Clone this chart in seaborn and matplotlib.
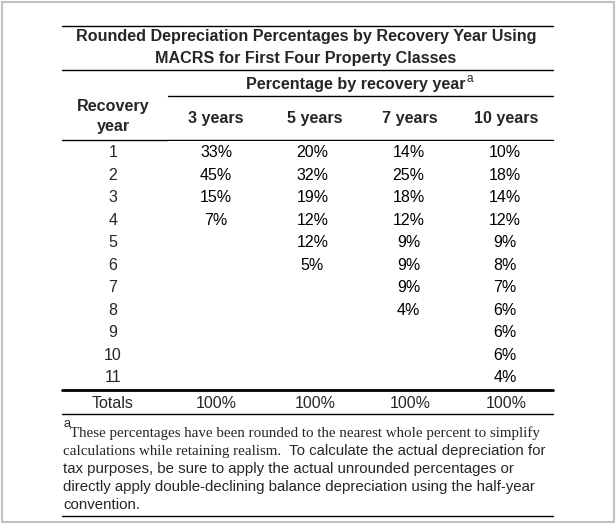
import numpy as np
import pandas as pd
import matplotlib
matplotlib.use('Agg')
import matplotlib.pyplot as plt
import seaborn as sns
from matplotlib.colors import ListedColormap

# data
recovery_years = list(range(1, 12))
classes = ['3 years', '5 years', '7 years', '10 years']
pct_3 = [33, 45, 15, 7]
pct_5 = [20, 32, 19, 12, 12, 5]
pct_7 = [14, 25, 18, 12, 9, 9, 9, 4]
pct_10 = [10, 18, 14, 12, 9, 8, 7, 6, 6, 6, 4]
totals = ['100%', '100%', '100%', '100%']

title_lines = ['Rounded Depreciation Percentages by Recovery Year Using',
               'MACRS for First Four Property Classes']
group_header = 'Percentage by recovery year'
row_header = ['Recovery', 'year']
note_serif = ['These percentages have been rounded to the nearest whole percent to simplify',
              'calculations while retaining realism.']
note_sans = ['  To calculate the actual depreciation for',
             'tax purposes, be sure to apply the actual unrounded percentages or',
             'directly apply double-declining balance depreciation using the half-year',
             'convention.']

cols = [pct_3, pct_5, pct_7, pct_10]
df = pd.DataFrame({c: pd.Series(v, dtype=float) for c, v in zip(classes, cols)},
                  index=range(len(recovery_years)))
df = df.reindex(range(len(recovery_years)))
labels = df.map(lambda v: '' if np.isnan(v) else f'{int(v)}%')

sns.set_theme(style='white')
plt.rcParams['font.family'] = ['Liberation Sans', 'DejaVu Sans']

W, H = 616, 524
fig = plt.figure(figsize=(W / 100, H / 100), dpi=100)
ax = fig.add_axes([0, 0, 1, 1])
ax.set_xlim(0, W)
ax.set_ylim(H, 0)
ax.axis('off')

fs = 11.5      # table body
fsb = 11.6     # bold headings
fsn = 10.8     # footnote
L, R = 62, 553

# outer frame
ax.plot([2, 613.5, 613.5, 2, 2], [1.5, 1.5, 521.5, 521.5, 1.5], color='#c0c0c0', lw=1.5)

# rules
for y in [25.5, 69.5, 139.5, 413.5, 515.5]:
    ax.plot([L, R], [y, y], color='black', lw=1)
ax.plot([168, R], [95.5, 95.5], color='black', lw=1)
ax.plot([L, R], [389.5, 389.5], color='black', lw=2)

# title
ax.text(306, 37, title_lines[0], ha='center', va='center', fontsize=fsb, fontweight='bold')
ax.text(306, 58, title_lines[1], ha='center', va='center', fontsize=fsb, fontweight='bold')

# header
t = ax.text(356, 85, group_header, ha='center', va='center', fontsize=fsb, fontweight='bold')
fig.canvas.draw()
rend = fig.canvas.get_renderer()
inv = ax.transData.inverted()
bb = t.get_window_extent(rend)
x_end = inv.transform((bb.x1, 0))[0]
ax.text(x_end + 0.3, 79, 'a', ha='left', va='center', fontsize=8.5)

ax.text(113, 107, row_header[0], ha='center', va='center', fontsize=fsb, fontweight='bold')
ax.text(113, 127, row_header[1], ha='center', va='center', fontsize=fsb, fontweight='bold')
col_x = [216, 315, 410, 506]
for x, c in zip(col_x, classes):
    ax.text(x, 118, c, ha='center', va='center', fontsize=fsb, fontweight='bold')

# body as heatmap
top, bot = 141.5, 389
hx = fig.add_axes([168 / W, 1 - bot / H, (R - 168) / W, (bot - top) / H])
sns.heatmap(df, annot=labels, fmt='', cmap=ListedColormap(['white']), cbar=False,
            xticklabels=False, yticklabels=False, ax=hx,
            annot_kws=dict(color='black', fontsize=fs))
hx.axis('off')
row_h = (bot - top) / len(recovery_years)
for i, yr in enumerate(recovery_years):
    ax.text(113, top + (i + 0.5) * row_h, str(yr), ha='center', va='center', fontsize=fs)

# totals
ax.text(113, 403, 'Totals', ha='center', va='center', fontsize=fs)
for x, s in zip(col_x, totals):
    ax.text(x, 403, s, ha='center', va='center', fontsize=fs)

# footnote
ax.text(64, 424, 'a', ha='left', va='center', fontsize=9)
serif = ['Liberation Serif', 'DejaVu Serif']
ax.text(70, 433, note_serif[0], ha='left', va='center', fontsize=fsn, family=serif)
t2 = ax.text(63, 451, note_serif[1], ha='left', va='center', fontsize=fsn, family=serif)
fig.canvas.draw()
bb2 = t2.get_window_extent(rend)
x2 = inv.transform((bb2.x1, 0))[0]
ax.text(x2, 451, note_sans[0], ha='left', va='center', fontsize=fsn)
for i, s in enumerate(note_sans[1:]):
    ax.text(63, 469 + i * 18.2, s, ha='left', va='center', fontsize=fsn)

fig.savefig('out.png', dpi=100)
